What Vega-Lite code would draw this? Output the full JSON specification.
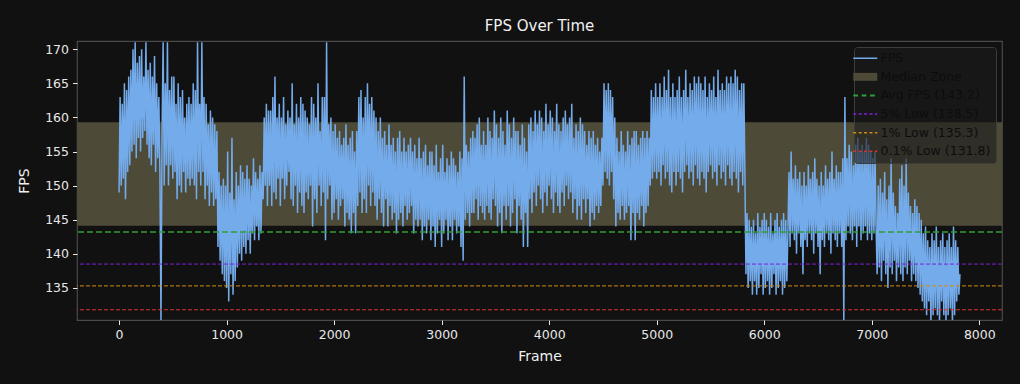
{
  "$schema": "https://vega.github.io/schema/vega-lite/v6.json",
  "width": 925,
  "height": 279,
  "autosize": {"type": "none"},
  "padding": {"left": 77, "top": 41, "right": 18, "bottom": 64},
  "background": "#111111",
  "config": {
    "font": "DejaVu Sans",
    "view": {"stroke": "#4a4a4a", "strokeWidth": 1.2},
    "axis": {"labelColor": "#e8e8e8", "titleColor": "#f0f0f0", "tickColor": "#e8e8e8", "labelFontSize": 12.5, "titleFontSize": 14, "titleFontWeight": "normal", "domain": false, "grid": false, "tickSize": 4.5, "labelPadding": 4, "labelOverlap": false, "labelFlush": false},
    "title": {"color": "#f0f0f0", "fontSize": 15, "fontWeight": "normal", "offset": 7}
  },
  "title": "FPS Over Time",
  "datasets": {
    "fps": [
{"f":0,"v":149},{"f":10,"v":163},{"f":20,"v":150},{"f":30,"v":162},{"f":40,"v":151},{"f":50,"v":165},{"f":60,"v":148},{"f":70,"v":164},{"f":80,"v":152},{"f":90,"v":166},
{"f":100,"v":153},{"f":110,"v":167},{"f":120,"v":155},{"f":130,"v":170},{"f":140,"v":156},{"f":150,"v":171},{"f":160,"v":154},{"f":170,"v":168},{"f":180,"v":157},{"f":190,"v":169},
{"f":200,"v":155},{"f":210,"v":170},{"f":220,"v":157},{"f":230,"v":166},{"f":240,"v":158},{"f":250,"v":171},{"f":260,"v":156},{"f":270,"v":167},{"f":280,"v":154},{"f":290,"v":168},
{"f":300,"v":153},{"f":310,"v":166},{"f":320,"v":156},{"f":330,"v":169},{"f":340,"v":152},{"f":350,"v":165},{"f":360,"v":154},{"f":370,"v":163},{"f":380,"v":152},{"f":390,"v":130},
{"f":400,"v":158},{"f":410,"v":171},{"f":420,"v":150},{"f":430,"v":165},{"f":440,"v":153},{"f":450,"v":171},{"f":460,"v":150},{"f":470,"v":164},{"f":480,"v":153},{"f":490,"v":166},
{"f":500,"v":151},{"f":510,"v":166},{"f":520,"v":152},{"f":530,"v":162},{"f":540,"v":148},{"f":550,"v":165},{"f":560,"v":150},{"f":570,"v":163},{"f":580,"v":149},{"f":590,"v":164},
{"f":600,"v":152},{"f":610,"v":160},{"f":620,"v":149},{"f":630,"v":162},{"f":640,"v":151},{"f":650,"v":163},{"f":660,"v":150},{"f":670,"v":162},{"f":680,"v":151},{"f":690,"v":165},
{"f":700,"v":150},{"f":710,"v":164},{"f":720,"v":148},{"f":730,"v":171},{"f":740,"v":152},{"f":750,"v":162},{"f":760,"v":150},{"f":770,"v":171},{"f":780,"v":152},{"f":790,"v":163},
{"f":800,"v":148},{"f":810,"v":162},{"f":820,"v":150},{"f":830,"v":159},{"f":840,"v":147},{"f":850,"v":161},{"f":860,"v":149},{"f":870,"v":160},{"f":880,"v":147},{"f":890,"v":159},
{"f":900,"v":148},{"f":910,"v":158},{"f":920,"v":141},{"f":930,"v":152},{"f":940,"v":139},{"f":950,"v":150},{"f":960,"v":137},{"f":970,"v":151},{"f":980,"v":136},{"f":990,"v":150},
{"f":1000,"v":135},{"f":1010,"v":155},{"f":1020,"v":133},{"f":1030,"v":149},{"f":1040,"v":137},{"f":1050,"v":157},{"f":1060,"v":134},{"f":1070,"v":148},{"f":1080,"v":136},{"f":1090,"v":152},
{"f":1100,"v":138},{"f":1110,"v":150},{"f":1120,"v":140},{"f":1130,"v":153},{"f":1140,"v":139},{"f":1150,"v":152},{"f":1160,"v":141},{"f":1170,"v":151},{"f":1180,"v":140},{"f":1190,"v":153},
{"f":1200,"v":142},{"f":1210,"v":151},{"f":1220,"v":140},{"f":1230,"v":150},{"f":1240,"v":143},{"f":1250,"v":154},{"f":1260,"v":142},{"f":1270,"v":152},{"f":1280,"v":144},{"f":1290,"v":151},
{"f":1300,"v":142},{"f":1310,"v":153},{"f":1320,"v":143},{"f":1330,"v":152},{"f":1340,"v":148},{"f":1350,"v":160},{"f":1360,"v":150},{"f":1370,"v":162},{"f":1380,"v":147},{"f":1390,"v":161},
{"f":1400,"v":150},{"f":1410,"v":161},{"f":1420,"v":147},{"f":1430,"v":163},{"f":1440,"v":149},{"f":1450,"v":166},{"f":1460,"v":148},{"f":1470,"v":160},{"f":1480,"v":151},{"f":1490,"v":162},
{"f":1500,"v":147},{"f":1510,"v":160},{"f":1520,"v":151},{"f":1530,"v":163},{"f":1540,"v":148},{"f":1550,"v":159},{"f":1560,"v":150},{"f":1570,"v":161},{"f":1580,"v":152},{"f":1590,"v":160},
{"f":1600,"v":148},{"f":1610,"v":165},{"f":1620,"v":147},{"f":1630,"v":159},{"f":1640,"v":150},{"f":1650,"v":162},{"f":1660,"v":146},{"f":1670,"v":160},{"f":1680,"v":149},{"f":1690,"v":163},
{"f":1700,"v":147},{"f":1710,"v":162},{"f":1720,"v":146},{"f":1730,"v":161},{"f":1740,"v":149},{"f":1750,"v":160},{"f":1760,"v":148},{"f":1770,"v":159},{"f":1780,"v":150},{"f":1790,"v":163},
{"f":1800,"v":144},{"f":1810,"v":162},{"f":1820,"v":148},{"f":1830,"v":160},{"f":1840,"v":146},{"f":1850,"v":165},{"f":1860,"v":150},{"f":1870,"v":158},{"f":1880,"v":147},{"f":1890,"v":163},
{"f":1900,"v":149},{"f":1910,"v":163},{"f":1920,"v":142},{"f":1930,"v":171},{"f":1940,"v":148},{"f":1950,"v":159},{"f":1960,"v":150},{"f":1970,"v":160},{"f":1980,"v":145},{"f":1990,"v":158},
{"f":2000,"v":146},{"f":2010,"v":159},{"f":2020,"v":148},{"f":2030,"v":157},{"f":2040,"v":145},{"f":2050,"v":158},{"f":2060,"v":147},{"f":2070,"v":156},{"f":2080,"v":148},{"f":2090,"v":157},
{"f":2100,"v":144},{"f":2110,"v":159},{"f":2120,"v":146},{"f":2130,"v":156},{"f":2140,"v":145},{"f":2150,"v":157},{"f":2160,"v":143},{"f":2170,"v":158},{"f":2180,"v":146},{"f":2190,"v":155},
{"f":2200,"v":143},{"f":2210,"v":158},{"f":2220,"v":147},{"f":2230,"v":163},{"f":2240,"v":149},{"f":2250,"v":164},{"f":2260,"v":146},{"f":2270,"v":160},{"f":2280,"v":148},{"f":2290,"v":163},
{"f":2300,"v":146},{"f":2310,"v":165},{"f":2320,"v":150},{"f":2330,"v":162},{"f":2340,"v":147},{"f":2350,"v":163},{"f":2360,"v":149},{"f":2370,"v":161},{"f":2380,"v":147},{"f":2390,"v":160},
{"f":2400,"v":145},{"f":2410,"v":158},{"f":2420,"v":148},{"f":2430,"v":160},{"f":2440,"v":146},{"f":2450,"v":157},{"f":2460,"v":144},{"f":2470,"v":158},{"f":2480,"v":148},{"f":2490,"v":156},
{"f":2500,"v":144},{"f":2510,"v":159},{"f":2520,"v":147},{"f":2530,"v":156},{"f":2540,"v":145},{"f":2550,"v":157},{"f":2560,"v":146},{"f":2570,"v":155},{"f":2580,"v":143},{"f":2590,"v":157},
{"f":2600,"v":145},{"f":2610,"v":158},{"f":2620,"v":146},{"f":2630,"v":155},{"f":2640,"v":144},{"f":2650,"v":157},{"f":2660,"v":147},{"f":2670,"v":155},{"f":2680,"v":145},{"f":2690,"v":156},
{"f":2700,"v":146},{"f":2710,"v":157},{"f":2720,"v":147},{"f":2730,"v":155},{"f":2740,"v":143},{"f":2750,"v":156},{"f":2760,"v":145},{"f":2770,"v":154},{"f":2780,"v":144},{"f":2790,"v":157},
{"f":2800,"v":145},{"f":2810,"v":154},{"f":2820,"v":142},{"f":2830,"v":155},{"f":2840,"v":144},{"f":2850,"v":156},{"f":2860,"v":143},{"f":2870,"v":153},{"f":2880,"v":145},{"f":2890,"v":155},
{"f":2900,"v":142},{"f":2910,"v":155},{"f":2920,"v":144},{"f":2930,"v":153},{"f":2940,"v":141},{"f":2950,"v":156},{"f":2960,"v":143},{"f":2970,"v":152},{"f":2980,"v":145},{"f":2990,"v":154},
{"f":3000,"v":141},{"f":3010,"v":156},{"f":3020,"v":143},{"f":3030,"v":152},{"f":3040,"v":145},{"f":3050,"v":154},{"f":3060,"v":142},{"f":3070,"v":153},{"f":3080,"v":144},{"f":3090,"v":155},
{"f":3100,"v":142},{"f":3110,"v":154},{"f":3120,"v":145},{"f":3130,"v":153},{"f":3140,"v":143},{"f":3150,"v":152},{"f":3160,"v":144},{"f":3170,"v":155},{"f":3180,"v":141},{"f":3190,"v":154},
{"f":3200,"v":139},{"f":3210,"v":166},{"f":3220,"v":145},{"f":3230,"v":156},{"f":3240,"v":146},{"f":3250,"v":155},{"f":3260,"v":144},{"f":3270,"v":157},{"f":3280,"v":146},{"f":3290,"v":158},
{"f":3300,"v":146},{"f":3310,"v":157},{"f":3320,"v":148},{"f":3330,"v":159},{"f":3340,"v":145},{"f":3350,"v":160},{"f":3360,"v":147},{"f":3370,"v":156},{"f":3380,"v":146},{"f":3390,"v":158},
{"f":3400,"v":145},{"f":3410,"v":156},{"f":3420,"v":147},{"f":3430,"v":160},{"f":3440,"v":146},{"f":3450,"v":158},{"f":3460,"v":145},{"f":3470,"v":157},{"f":3480,"v":148},{"f":3490,"v":161},
{"f":3500,"v":147},{"f":3510,"v":159},{"f":3520,"v":144},{"f":3530,"v":157},{"f":3540,"v":146},{"f":3550,"v":160},{"f":3560,"v":143},{"f":3570,"v":158},{"f":3580,"v":147},{"f":3590,"v":156},
{"f":3600,"v":145},{"f":3610,"v":161},{"f":3620,"v":147},{"f":3630,"v":159},{"f":3640,"v":144},{"f":3650,"v":157},{"f":3660,"v":146},{"f":3670,"v":160},{"f":3680,"v":148},{"f":3690,"v":158},
{"f":3700,"v":143},{"f":3710,"v":158},{"f":3720,"v":147},{"f":3730,"v":156},{"f":3740,"v":145},{"f":3750,"v":159},{"f":3760,"v":141},{"f":3770,"v":157},{"f":3780,"v":146},{"f":3790,"v":155},
{"f":3800,"v":141},{"f":3810,"v":159},{"f":3820,"v":148},{"f":3830,"v":160},{"f":3840,"v":146},{"f":3850,"v":158},{"f":3860,"v":149},{"f":3870,"v":161},{"f":3880,"v":147},{"f":3890,"v":159},
{"f":3900,"v":150},{"f":3910,"v":161},{"f":3920,"v":148},{"f":3930,"v":160},{"f":3940,"v":146},{"f":3950,"v":158},{"f":3960,"v":149},{"f":3970,"v":162},{"f":3980,"v":147},{"f":3990,"v":159},
{"f":4000,"v":150},{"f":4010,"v":161},{"f":4020,"v":148},{"f":4030,"v":160},{"f":4040,"v":146},{"f":4050,"v":158},{"f":4060,"v":149},{"f":4070,"v":162},{"f":4080,"v":147},{"f":4090,"v":159},
{"f":4100,"v":146},{"f":4110,"v":158},{"f":4120,"v":149},{"f":4130,"v":160},{"f":4140,"v":147},{"f":4150,"v":161},{"f":4160,"v":150},{"f":4170,"v":159},{"f":4180,"v":148},{"f":4190,"v":160},
{"f":4200,"v":149},{"f":4210,"v":162},{"f":4220,"v":146},{"f":4230,"v":157},{"f":4240,"v":148},{"f":4250,"v":159},{"f":4260,"v":145},{"f":4270,"v":158},{"f":4280,"v":147},{"f":4290,"v":160},
{"f":4300,"v":145},{"f":4310,"v":159},{"f":4320,"v":148},{"f":4330,"v":158},{"f":4340,"v":146},{"f":4350,"v":156},{"f":4360,"v":148},{"f":4370,"v":158},{"f":4380,"v":144},{"f":4390,"v":157},
{"f":4400,"v":146},{"f":4410,"v":158},{"f":4420,"v":145},{"f":4430,"v":156},{"f":4440,"v":147},{"f":4450,"v":157},{"f":4460,"v":146},{"f":4470,"v":155},{"f":4480,"v":147},{"f":4490,"v":157},
{"f":4500,"v":150},{"f":4510,"v":165},{"f":4520,"v":152},{"f":4530,"v":164},{"f":4540,"v":151},{"f":4550,"v":165},{"f":4560,"v":150},{"f":4570,"v":164},{"f":4580,"v":152},{"f":4590,"v":163},
{"f":4600,"v":148},{"f":4610,"v":160},{"f":4620,"v":144},{"f":4630,"v":157},{"f":4640,"v":146},{"f":4650,"v":155},{"f":4660,"v":145},{"f":4670,"v":158},{"f":4680,"v":147},{"f":4690,"v":156},
{"f":4700,"v":145},{"f":4710,"v":155},{"f":4720,"v":146},{"f":4730,"v":158},{"f":4740,"v":147},{"f":4750,"v":156},{"f":4760,"v":142},{"f":4770,"v":157},{"f":4780,"v":146},{"f":4790,"v":158},
{"f":4800,"v":142},{"f":4810,"v":158},{"f":4820,"v":146},{"f":4830,"v":156},{"f":4840,"v":145},{"f":4850,"v":157},{"f":4860,"v":147},{"f":4870,"v":158},{"f":4880,"v":144},{"f":4890,"v":157},
{"f":4900,"v":146},{"f":4910,"v":158},{"f":4920,"v":147},{"f":4930,"v":157},{"f":4940,"v":150},{"f":4950,"v":164},{"f":4960,"v":151},{"f":4970,"v":163},{"f":4980,"v":152},{"f":4990,"v":165},
{"f":5000,"v":151},{"f":5010,"v":163},{"f":5020,"v":152},{"f":5030,"v":165},{"f":5040,"v":150},{"f":5050,"v":163},{"f":5060,"v":153},{"f":5070,"v":166},{"f":5080,"v":151},{"f":5090,"v":164},
{"f":5100,"v":152},{"f":5110,"v":167},{"f":5120,"v":150},{"f":5130,"v":163},{"f":5140,"v":149},{"f":5150,"v":165},{"f":5160,"v":152},{"f":5170,"v":163},{"f":5180,"v":150},{"f":5190,"v":164},
{"f":5200,"v":152},{"f":5210,"v":166},{"f":5220,"v":151},{"f":5230,"v":163},{"f":5240,"v":149},{"f":5250,"v":164},{"f":5260,"v":152},{"f":5270,"v":167},{"f":5280,"v":153},{"f":5290,"v":163},
{"f":5300,"v":151},{"f":5310,"v":165},{"f":5320,"v":152},{"f":5330,"v":164},{"f":5340,"v":150},{"f":5350,"v":166},{"f":5360,"v":153},{"f":5370,"v":165},{"f":5380,"v":151},{"f":5390,"v":166},
{"f":5400,"v":150},{"f":5410,"v":165},{"f":5420,"v":152},{"f":5430,"v":164},{"f":5440,"v":151},{"f":5450,"v":166},{"f":5460,"v":149},{"f":5470,"v":163},{"f":5480,"v":152},{"f":5490,"v":165},
{"f":5500,"v":153},{"f":5510,"v":164},{"f":5520,"v":151},{"f":5530,"v":166},{"f":5540,"v":152},{"f":5550,"v":163},{"f":5560,"v":150},{"f":5570,"v":167},{"f":5580,"v":153},{"f":5590,"v":164},
{"f":5600,"v":151},{"f":5610,"v":165},{"f":5620,"v":152},{"f":5630,"v":164},{"f":5640,"v":150},{"f":5650,"v":166},{"f":5660,"v":153},{"f":5670,"v":165},{"f":5680,"v":151},{"f":5690,"v":166},
{"f":5700,"v":150},{"f":5710,"v":165},{"f":5720,"v":152},{"f":5730,"v":167},{"f":5740,"v":151},{"f":5750,"v":166},{"f":5760,"v":149},{"f":5770,"v":164},{"f":5780,"v":152},{"f":5790,"v":165},
{"f":5800,"v":150},{"f":5810,"v":165},{"f":5820,"v":152},{"f":5830,"v":137},{"f":5840,"v":146},{"f":5850,"v":135},{"f":5860,"v":145},{"f":5870,"v":136},{"f":5880,"v":144},{"f":5890,"v":134},
{"f":5900,"v":145},{"f":5910,"v":136},{"f":5920,"v":143},{"f":5930,"v":134},{"f":5940,"v":146},{"f":5950,"v":135},{"f":5960,"v":144},{"f":5970,"v":137},{"f":5980,"v":145},{"f":5990,"v":134},
{"f":6000,"v":146},{"f":6010,"v":135},{"f":6020,"v":145},{"f":6030,"v":136},{"f":6040,"v":144},{"f":6050,"v":134},{"f":6060,"v":146},{"f":6070,"v":135},{"f":6080,"v":143},{"f":6090,"v":137},
{"f":6100,"v":145},{"f":6110,"v":134},{"f":6120,"v":146},{"f":6130,"v":135},{"f":6140,"v":144},{"f":6150,"v":136},{"f":6160,"v":145},{"f":6170,"v":134},{"f":6180,"v":146},{"f":6190,"v":135},
{"f":6200,"v":145},{"f":6210,"v":136},{"f":6220,"v":143},{"f":6230,"v":152},{"f":6240,"v":141},{"f":6250,"v":155},{"f":6260,"v":143},{"f":6270,"v":151},{"f":6280,"v":142},{"f":6290,"v":153},
{"f":6300,"v":140},{"f":6310,"v":151},{"f":6320,"v":143},{"f":6330,"v":152},{"f":6340,"v":141},{"f":6350,"v":150},{"f":6360,"v":137},{"f":6370,"v":152},{"f":6380,"v":142},{"f":6390,"v":150},
{"f":6400,"v":141},{"f":6410,"v":153},{"f":6420,"v":143},{"f":6430,"v":151},{"f":6440,"v":142},{"f":6450,"v":152},{"f":6460,"v":140},{"f":6470,"v":154},{"f":6480,"v":143},{"f":6490,"v":151},
{"f":6500,"v":141},{"f":6510,"v":150},{"f":6520,"v":137},{"f":6530,"v":152},{"f":6540,"v":142},{"f":6550,"v":150},{"f":6560,"v":141},{"f":6570,"v":153},{"f":6580,"v":143},{"f":6590,"v":151},
{"f":6600,"v":142},{"f":6610,"v":152},{"f":6620,"v":140},{"f":6630,"v":155},{"f":6640,"v":143},{"f":6650,"v":151},{"f":6660,"v":142},{"f":6670,"v":153},{"f":6680,"v":141},{"f":6690,"v":152},
{"f":6700,"v":143},{"f":6710,"v":152},{"f":6720,"v":141},{"f":6730,"v":154},{"f":6740,"v":130},{"f":6750,"v":163},{"f":6760,"v":142},{"f":6770,"v":154},{"f":6780,"v":144},{"f":6790,"v":156},
{"f":6800,"v":143},{"f":6810,"v":155},{"f":6820,"v":142},{"f":6830,"v":153},{"f":6840,"v":144},{"f":6850,"v":156},{"f":6860,"v":141},{"f":6870,"v":157},{"f":6880,"v":144},{"f":6890,"v":155},
{"f":6900,"v":142},{"f":6910,"v":156},{"f":6920,"v":143},{"f":6930,"v":155},{"f":6940,"v":144},{"f":6950,"v":157},{"f":6960,"v":142},{"f":6970,"v":156},{"f":6980,"v":143},{"f":6990,"v":155},
{"f":7000,"v":142},{"f":7010,"v":154},{"f":7020,"v":143},{"f":7030,"v":155},{"f":7040,"v":144},{"f":7050,"v":137},{"f":7060,"v":150},{"f":7070,"v":138},{"f":7080,"v":151},{"f":7090,"v":136},
{"f":7100,"v":149},{"f":7110,"v":139},{"f":7120,"v":152},{"f":7130,"v":137},{"f":7140,"v":148},{"f":7150,"v":135},{"f":7160,"v":150},{"f":7170,"v":138},{"f":7180,"v":154},{"f":7190,"v":137},
{"f":7200,"v":149},{"f":7210,"v":139},{"f":7220,"v":147},{"f":7230,"v":136},{"f":7240,"v":146},{"f":7250,"v":138},{"f":7260,"v":151},{"f":7270,"v":137},{"f":7280,"v":153},{"f":7290,"v":136},
{"f":7300,"v":150},{"f":7310,"v":138},{"f":7320,"v":154},{"f":7330,"v":137},{"f":7340,"v":149},{"f":7350,"v":139},{"f":7360,"v":147},{"f":7370,"v":136},{"f":7380,"v":146},{"f":7390,"v":137},
{"f":7400,"v":148},{"f":7410,"v":136},{"f":7420,"v":147},{"f":7430,"v":135},{"f":7440,"v":146},{"f":7450,"v":134},{"f":7460,"v":145},{"f":7470,"v":133},{"f":7480,"v":143},{"f":7490,"v":132},
{"f":7500,"v":144},{"f":7510,"v":131},{"f":7520,"v":142},{"f":7530,"v":133},{"f":7540,"v":141},{"f":7550,"v":130},{"f":7560,"v":143},{"f":7570,"v":131},{"f":7580,"v":142},{"f":7590,"v":132},
{"f":7600,"v":144},{"f":7610,"v":131},{"f":7620,"v":141},{"f":7630,"v":130},{"f":7640,"v":142},{"f":7650,"v":133},{"f":7660,"v":143},{"f":7670,"v":131},{"f":7680,"v":141},{"f":7690,"v":130},
{"f":7700,"v":142},{"f":7710,"v":131},{"f":7720,"v":143},{"f":7730,"v":132},{"f":7740,"v":141},{"f":7750,"v":130},{"f":7760,"v":144},{"f":7770,"v":131},{"f":7780,"v":142},{"f":7790,"v":133},
{"f":7800,"v":141},{"f":7810,"v":134},{"f":7820,"v":137}
    ]
  },
  "encoding": {
    "color": {
      "field": "series",
      "type": "nominal",
      "scale": {
        "domain": ["FPS", "Median Zone", "Avg FPS (143.2)", "5% Low (138.5)", "1% Low (135.3)", "0.1% Low (131.8)"],
        "range": ["#74abeb", "#4d4a37", "#2f9e35", "#7a22d8", "#d08a14", "#d63333"]
      },
      "legend": {
        "title": null,
        "orient": "top-right",
        "offset": 6,
        "fillColor": "rgba(28,28,28,0.6)",
        "strokeColor": "#3c3c3c",
        "cornerRadius": 3,
        "padding": 5,
        "symbolType": "M-1,0H1",
        "symbolSize": 576,
        "symbolStrokeWidth": 1.5,
        "rowPadding": 5.6,
        "labelFont": "DejaVu Sans",
        "labelFontSize": 12.5,
        "labelColor": "#0d0d0d",
        "labelOffset": 9,
        "encode": {
          "symbols": {
            "update": {
              "shape": {"signal": "datum.value === 'FPS' ? 'M-1,0H1' : (datum.value === 'Median Zone' ? 'M-1,-0.33H1V0.33H-1Z' : (datum.value === 'Avg FPS (143.2)' ? 'M-1,0H-0.6M-0.3,0H0.1M0.4,0H0.8' : 'M-1,0H-0.75M-0.55,0H-0.3M-0.1,0H0.15M0.35,0H0.6M0.8,0H1'))"},
              "fill": {"signal": "datum.value === 'Median Zone' ? '#58553f' : 'transparent'"},
              "stroke": {"scale": "color", "field": "value"},
              "strokeWidth": {"signal": "datum.value === 'Median Zone' ? 0 : (datum.value === 'Avg FPS (143.2)' ? 2 : 1.5)"}
            }
          }
        }
      }
    }
  },
  "layer": [
    {
      "data": {"values": [{"series": "Median Zone", "lo": 144.1, "hi": 159.3}]},
      "mark": {"type": "rect", "clip": true},
      "encoding": {
        "y": {"field": "lo", "type": "quantitative", "title": "FPS", "scale": {"domain": [130.3, 171.2], "nice": false, "zero": false}, "axis": {"values": [135, 140, 145, 150, 155, 160, 165, 170], "tickCount": 8, "titlePadding": 13}},
        "y2": {"field": "hi"}
      }
    },
    {
      "data": {"name": "fps"},
      "transform": [{"calculate": "'FPS'", "as": "series"}],
      "mark": {"type": "line", "strokeWidth": 1.5, "clip": true},
      "encoding": {
        "x": {"field": "f", "type": "quantitative", "title": "Frame", "scale": {"domain": [-391, 8211], "nice": false, "zero": false}, "axis": {"values": [0, 1000, 2000, 3000, 4000, 5000, 6000, 7000, 8000], "format": "d", "titlePadding": 8}},
        "y": {"field": "v", "type": "quantitative", "title": "FPS", "scale": {"domain": [130.3, 171.2], "nice": false, "zero": false}, "axis": {"values": [135, 140, 145, 150, 155, 160, 165, 170], "tickCount": 8, "titlePadding": 13}}
      }
    },
    {
      "data": {"values": [{"series": "Avg FPS (143.2)", "y": 143.2}]},
      "mark": {"type": "rule", "strokeWidth": 1.6, "strokeDash": [6, 3]},
      "encoding": {"y": {"field": "y", "type": "quantitative", "title": "FPS", "axis": {"values": [135, 140, 145, 150, 155, 160, 165, 170], "tickCount": 8, "titlePadding": 13}}}
    },
    {
      "data": {"values": [{"series": "5% Low (138.5)", "y": 138.5}]},
      "mark": {"type": "rule", "strokeWidth": 1, "strokeDash": [4, 2]},
      "encoding": {"y": {"field": "y", "type": "quantitative", "title": "FPS", "axis": {"values": [135, 140, 145, 150, 155, 160, 165, 170], "tickCount": 8, "titlePadding": 13}}}
    },
    {
      "data": {"values": [{"series": "1% Low (135.3)", "y": 135.3}]},
      "mark": {"type": "rule", "strokeWidth": 1, "strokeDash": [4, 2]},
      "encoding": {"y": {"field": "y", "type": "quantitative", "title": "FPS", "axis": {"values": [135, 140, 145, 150, 155, 160, 165, 170], "tickCount": 8, "titlePadding": 13}}}
    },
    {
      "data": {"values": [{"series": "0.1% Low (131.8)", "y": 131.8}]},
      "mark": {"type": "rule", "strokeWidth": 1, "strokeDash": [4, 2]},
      "encoding": {"y": {"field": "y", "type": "quantitative", "title": "FPS", "axis": {"values": [135, 140, 145, 150, 155, 160, 165, 170], "tickCount": 8, "titlePadding": 13}}}
    }
  ]
}
